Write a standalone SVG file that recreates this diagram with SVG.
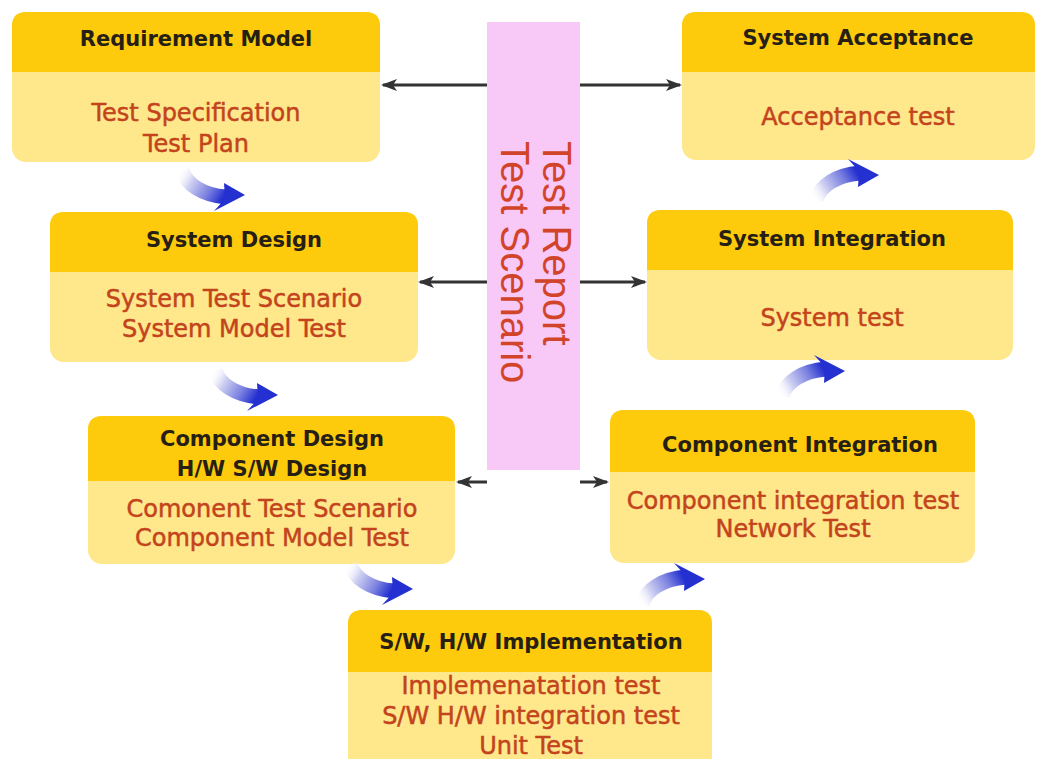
<svg xmlns="http://www.w3.org/2000/svg" width="1040" height="759" viewBox="0 0 1040 759">
  <style>
    .body { fill: #ffe78c; }
    .head { fill: #fdca0c; }
    .title { font-family: "DejaVu Sans", "Liberation Sans", sans-serif; font-weight: bold; font-size: 21px; fill: #262014; text-anchor: middle; }
    .item { font-family: "DejaVu Sans", "Liberation Sans", sans-serif; font-size: 24px; fill: #c3441c; stroke: #c3441c; stroke-width: 0.5; text-anchor: middle; }
    .link { stroke: #333; stroke-width: 3; fill: none; marker-end: url(#tip); }
    .vert { font-family: "Liberation Sans", "Arial", sans-serif; font-size: 40px; fill: #d2442a; }
  </style>
  <defs>
    <marker id="tip" viewBox="0 0 16 12" refX="14" refY="6" markerWidth="16" markerHeight="12" markerUnits="userSpaceOnUse" orient="auto">
      <path d="M0,0 L16,6 L0,12 L4,6 Z" fill="#333"/>
    </marker>
    <linearGradient id="flow" gradientUnits="userSpaceOnUse" x1="0" y1="0" x2="44" y2="26">
      <stop offset="0" stop-color="#ffffff" stop-opacity="0"/>
      <stop offset="0.3" stop-color="#d0d2f2"/>
      <stop offset="0.7" stop-color="#7a80e0"/>
      <stop offset="1" stop-color="#2430d0"/>
    </linearGradient>
    <!-- curved step arrow: tail at origin, sweeping down then right -->
    <g id="step">
      <path d="M2,0 C6,14 22,25 46,27" stroke="url(#flow)" stroke-width="15" fill="none"/>
      <path d="M44,13 L65,25 L34,41 L45,29 Z" fill="#2430d0"/>
    </g>
  </defs>

  <!-- central band -->
  <g id="band">
    <rect x="487" y="22" width="93" height="448" fill="#f8c8f6"/>
    <text class="vert" transform="translate(543,141) rotate(90)">Test Report</text>
    <text class="vert" transform="translate(501,141) rotate(90)">Test Scenario</text>
  </g>

  <g id="req-model">
    <rect class="body" x="12" y="12" width="368" height="150" rx="14"/>
    <path class="head" d="M12,72 V26 Q12,12 26,12 H366 Q380,12 380,26 V72 Z"/>
    <text class="title" x="196" y="46">Requirement Model</text>
    <text class="item" x="196" y="121">Test Specification</text>
    <text class="item" x="196" y="152">Test Plan</text>
  </g>

  <g id="system-design">
    <rect class="body" x="50" y="212" width="368" height="150" rx="14"/>
    <path class="head" d="M50,272 V226 Q50,212 64,212 H404 Q418,212 418,226 V272 Z"/>
    <text class="title" x="234" y="247">System Design</text>
    <text class="item" x="234" y="307">System Test Scenario</text>
    <text class="item" x="234" y="337">System Model Test</text>
  </g>

  <g id="component-design">
    <rect class="body" x="88" y="416" width="367" height="148" rx="14"/>
    <path class="head" d="M88,481 V430 Q88,416 102,416 H441 Q455,416 455,430 V481 Z"/>
    <text class="title" x="272" y="446">Component Design</text>
    <text class="title" x="272" y="476">H/W S/W Design</text>
    <text class="item" x="272" y="517">Comonent Test Scenario</text>
    <text class="item" x="272" y="546">Component Model Test</text>
  </g>

  <g id="implementation">
    <rect class="body" x="348" y="610" width="364" height="170" rx="14"/>
    <path class="head" d="M348,672 V624 Q348,610 362,610 H698 Q712,610 712,624 V672 Z"/>
    <text class="title" x="531" y="649">S/W, H/W Implementation</text>
    <text class="item" x="531" y="694">Implemenatation test</text>
    <text class="item" x="531" y="724">S/W H/W integration test</text>
    <text class="item" x="531" y="754">Unit Test</text>
  </g>

  <g id="component-integration">
    <rect class="body" x="610" y="410" width="365" height="153" rx="14"/>
    <path class="head" d="M610,472 V424 Q610,410 624,410 H961 Q975,410 975,424 V472 Z"/>
    <text class="title" x="800" y="452">Component Integration</text>
    <text class="item" x="793" y="509">Component integration test</text>
    <text class="item" x="793" y="537">Network Test</text>
  </g>

  <g id="system-integration">
    <rect class="body" x="647" y="210" width="366" height="150" rx="14"/>
    <path class="head" d="M647,270 V224 Q647,210 661,210 H999 Q1013,210 1013,224 V270 Z"/>
    <text class="title" x="832" y="246">System Integration</text>
    <text class="item" x="832" y="326">System test</text>
  </g>

  <g id="system-acceptance">
    <rect class="body" x="682" y="12" width="353" height="148" rx="14"/>
    <path class="head" d="M682,72 V26 Q682,12 696,12 H1021 Q1035,12 1035,26 V72 Z"/>
    <text class="title" x="858" y="45">System Acceptance</text>
    <text class="item" x="858" y="125">Acceptance test</text>
  </g>

  <g id="connectors">
    <line class="link" x1="487" y1="85" x2="383" y2="85"/>
    <line class="link" x1="580" y1="85" x2="680" y2="85"/>
    <line class="link" x1="487" y1="282" x2="420" y2="282"/>
    <line class="link" x1="580" y1="282" x2="645" y2="282"/>
    <line class="link" x1="487" y1="482" x2="458" y2="482"/>
    <line class="link" x1="580" y1="482" x2="607" y2="482"/>
    <!-- downward steps on the left -->
    <use href="#step" transform="translate(180,170)"/>
    <use href="#step" transform="translate(213,370)"/>
    <use href="#step" transform="translate(348,564)"/>
    <!-- upward steps on the right -->
    <use href="#step" transform="translate(640,604) scale(1,-1)"/>
    <use href="#step" transform="translate(780,396) scale(1,-1)"/>
    <use href="#step" transform="translate(814,200) scale(1,-1)"/>
  </g>
</svg>
